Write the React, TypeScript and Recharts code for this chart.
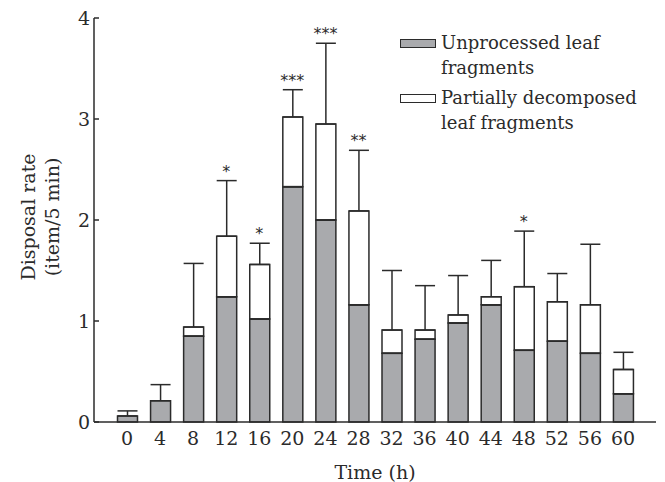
import React from 'react';
import { ComposedChart, Bar, Line, XAxis, YAxis, ErrorBar, LabelList, Legend } from 'recharts';

const times = ['0', '4', '8', '12', '16', '20', '24', '28', '32', '36', '40', '44', '48', '52', '56', '60'];
const unprocessed = [0.06, 0.21, 0.85, 1.24, 1.02, 2.33, 2.0, 1.16, 0.68, 0.82, 0.98, 1.16, 0.71, 0.8, 0.68, 0.28];
const partial = [0, 0, 0.09, 0.6, 0.54, 0.69, 0.95, 0.93, 0.23, 0.09, 0.08, 0.08, 0.63, 0.39, 0.48, 0.24];
const errorUp = [0.05, 0.16, 0.63, 0.55, 0.21, 0.27, 0.8, 0.6, 0.59, 0.44, 0.39, 0.36, 0.55, 0.28, 0.6, 0.17];
const stars = ['', '', '', '*', '*', '***', '***', '**', '', '', '', '', '*', '', '', ''];
const yTicks = [0, 1, 2, 3, 4];

const FONT = '"DejaVu Serif", serif';
const INK = '#2b2b2b';
const GREY = '#a9aaad';

// error bar sits on the top segment; when there is no white part it goes on the grey one
const data = times.map((time, i) => ({
  time,
  unprocessed: unprocessed[i],
  partial: partial[i],
  errBase: partial[i] === 0 ? [0, errorUp[i]] : [0, 0],
  err: [0, errorUp[i]],
  errTop: unprocessed[i] + partial[i] + errorUp[i],
  stars: stars[i],
}));

const YTick = ({ x, y, payload }: any) => (
  <g>
    <line x1={x + 4} x2={x + 9} y1={y} y2={y} stroke={INK} strokeWidth={1.5} />
    <text x={x} y={y} dy="0.36em" textAnchor="end" fontFamily={FONT} fontSize={19} fill={INK}>
      {payload.value}
    </text>
  </g>
);

const YLabel = ({ viewBox }: any) => {
  const cy = viewBox.y + viewBox.height / 2 - 3;
  return (
    <g fontFamily={FONT} fontSize={19} fill={INK}>
      <text x={28} y={cy} textAnchor="middle" dominantBaseline="central" transform={`rotate(-90, 28, ${cy})`}>
        Disposal rate
      </text>
      <text x={52} y={cy} textAnchor="middle" dominantBaseline="central" transform={`rotate(-90, 52, ${cy})`}>
        (item/5 min)
      </text>
    </g>
  );
};

const StarLabel = ({ x, y, value }: any) => {
  if (!value) return null;
  return (
    <text x={x} y={y - 4} textAnchor="middle" fontFamily='"DejaVu Sans", sans-serif' fontSize={16} fill={INK}>
      {value}
    </text>
  );
};

const LegendBox = () => {
  const items = [
    { fill: GREY, lines: ['Unprocessed leaf', 'fragments'] },
    { fill: '#ffffff', lines: ['Partially decomposed', 'leaf fragments'] },
  ];
  return (
    <div style={{ fontFamily: FONT, fontSize: 18, color: INK }}>
      {items.map((it, i) => (
        <div key={i} style={{ display: 'flex', alignItems: 'flex-start', marginBottom: 5 }}>
          <div
            style={{
              width: 36,
              height: 9,
              marginTop: 9,
              background: it.fill,
              border: `1.5px solid ${INK}`,
              boxSizing: 'border-box',
            }}
          />
          <div style={{ marginLeft: 5, lineHeight: '25px', whiteSpace: 'nowrap', textAlign: 'left' }}>
            {it.lines[0]}
            <br />
            {it.lines[1]}
          </div>
        </div>
      ))}
    </div>
  );
};

export default function App() {
  return (
    <div style={{ position: 'absolute', left: 0, top: 0, width: 665, height: 482, background: '#fff' }}>
      <ComposedChart width={665} height={482} data={data} margin={{ top: 18, right: 9, bottom: 0, left: 0 }}>
        <XAxis
          dataKey="time"
          height={60}
          padding={{ left: 16.5, right: 16.5 }}
          tickLine={false}
          tickSize={6}
          tickMargin={4}
          stroke={INK}
          strokeWidth={1.5}
          tick={{ fontFamily: FONT, fontSize: 19, fill: INK }}
          label={{ value: 'Time (h)', position: 'insideBottom', offset: 3, fontFamily: FONT, fontSize: 19, fill: INK }}
        />
        <XAxis xAxisId="top" dataKey="time" orientation="top" height={0} tick={false} tickLine={false} stroke={INK} strokeWidth={1.5} />
        <YAxis
          width={94}
          domain={[0, 4]}
          ticks={yTicks}
          tickLine={false}
          tickSize={0}
          tickMargin={4}
          stroke={INK}
          strokeWidth={1.5}
          tick={<YTick />}
          label={{ content: <YLabel /> }}
        />
        <YAxis yAxisId="right" orientation="right" width={0} domain={[0, 4]} tick={false} tickLine={false} stroke={INK} strokeWidth={1.5} />
        <Legend
          layout="horizontal"
          verticalAlign="middle"
          align="center"
          content={<LegendBox />}
          wrapperStyle={{ top: 30, left: 400, width: 260, height: 110 }}
        />
        <Bar dataKey="unprocessed" stackId="a" barSize={20} fill={GREY} stroke={INK} strokeWidth={1.5} isAnimationActive={false}>
          <ErrorBar dataKey="errBase" direction="y" width={10} stroke={INK} strokeWidth={1.5} />
        </Bar>
        <Bar dataKey="partial" stackId="a" barSize={20} fill="#ffffff" stroke={INK} strokeWidth={1.5} isAnimationActive={false}>
          <ErrorBar dataKey="err" direction="y" width={10} stroke={INK} strokeWidth={1.5} />
        </Bar>
        <Line dataKey="errTop" stroke="none" dot={false} activeDot={false} legendType="none" isAnimationActive={false}>
          <LabelList dataKey="stars" content={<StarLabel />} />
        </Line>
      </ComposedChart>
    </div>
  );
}
